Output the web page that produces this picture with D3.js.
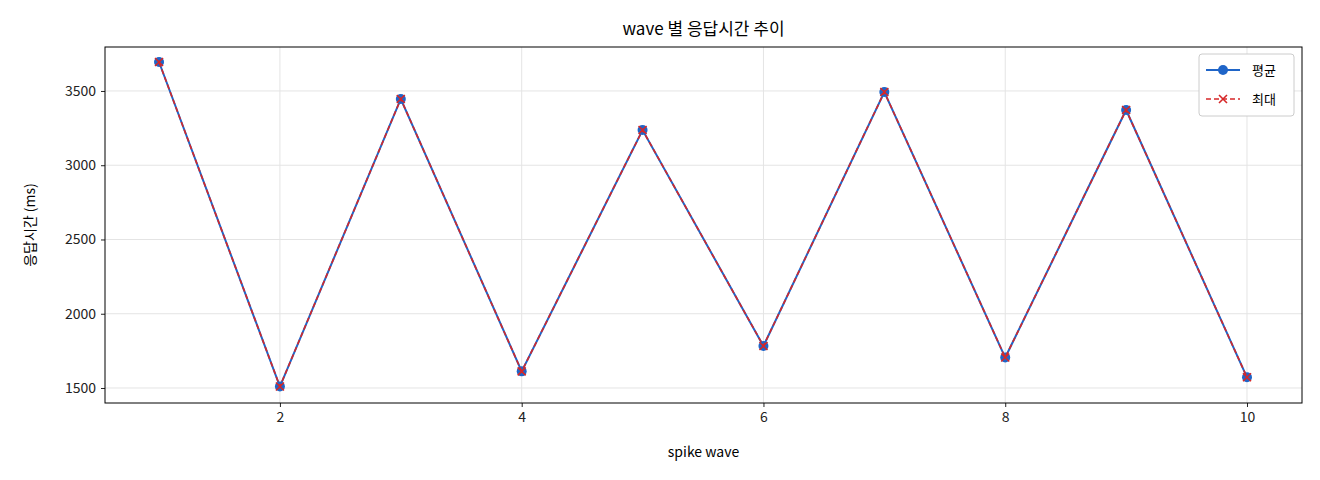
<!DOCTYPE html>
<html><head><meta charset="utf-8">
<script src="https://cdn.jsdelivr.net/npm/d3@7"></script>
<style>body{margin:0;background:#fff}text{font-family:"Noto Sans CJK KR","Noto Sans",sans-serif}</style>
</head><body>
<svg id="c" width="1320" height="480"></svg>
<script>
const waves=[1,2,3,4,5,6,7,8,9,10];
const avgVals=[3695,1510,3446,1612,3237,1783,3493,1705,3372,1572];
const maxVals=[3695,1510,3446,1612,3237,1783,3493,1705,3372,1572];
const xTicks=[2,4,6,8,10];
const yTicks=[1500,2000,2500,3000,3500];
const svg=d3.select("#c");
const L=105,R=1302,T=47,B=403;
const x=d3.scaleLinear().domain([0.553,10.455]).range([L,R]);
const y=d3.scaleLinear().domain([1399,3796]).range([B,T]);
const g=svg.append("g");
g.selectAll(".gx").data(xTicks).enter().append("line").attr("x1",d=>x(d)).attr("x2",d=>x(d)).attr("y1",T).attr("y2",B).attr("stroke","#e4e4e4");
g.selectAll(".gy").data(yTicks).enter().append("line").attr("y1",d=>y(d)).attr("y2",d=>y(d)).attr("x1",L).attr("x2",R).attr("stroke","#e4e4e4");
const xa=svg.append("g").attr("transform",`translate(0,${B})`).call(d3.axisBottom(x).tickValues(xTicks).tickFormat(d3.format("d")).tickSize(4).tickPadding(5));
const ya=svg.append("g").attr("transform",`translate(${L},0)`).call(d3.axisLeft(y).tickValues(yTicks).tickFormat(d3.format("d")).tickSize(4).tickPadding(5));
[xa,ya].forEach(a=>{a.select(".domain").remove();a.selectAll("text").attr("font-size",14).attr("fill","#222");a.selectAll("line").attr("stroke","#222");});
svg.append("rect").attr("x",L).attr("y",T).attr("width",R-L).attr("height",B-T).attr("fill","none").attr("stroke","#000");
const line=d3.line().x((d,i)=>x(waves[i])).y(d=>y(d));
svg.append("path").datum(avgVals).attr("d",line).attr("fill","none").attr("stroke","#1f65c8").attr("stroke-width",2);
svg.selectAll(".pa").data(avgVals).enter().append("circle").attr("cx",(d,i)=>x(waves[i])).attr("cy",d=>y(d)).attr("r",5).attr("fill","#1f65c8");
svg.append("path").datum(maxVals).attr("d",line).attr("fill","none").attr("stroke","#d62728").attr("stroke-width",1.6).attr("stroke-dasharray","5,3");
const cross=(sel,cx,cy)=>{sel.append("path").attr("d",`M${cx-4},${cy-4}L${cx+4},${cy+4}M${cx-4},${cy+4}L${cx+4},${cy-4}`).attr("stroke","#d62728").attr("stroke-width",1.6);};
maxVals.forEach((d,i)=>cross(svg,x(waves[i]),y(d)));
svg.append("text").attr("x",(L+R)/2).attr("y",35).attr("text-anchor","middle").attr("font-size",17).text("wave 별 응답시간 추이");
svg.append("text").attr("x",(L+R)/2).attr("y",457).attr("text-anchor","middle").attr("font-size",14).text("spike wave");
svg.append("text").attr("transform",`translate(35,${(T+B)/2}) rotate(-90)`).attr("text-anchor","middle").attr("font-size",14).text("응답시간 (ms)");
const lg=svg.append("g");
lg.append("rect").attr("x",1199).attr("y",54).attr("width",95).attr("height",62).attr("rx",3).attr("fill","#fff").attr("stroke","#ccc");
lg.append("line").attr("x1",1206).attr("x2",1240).attr("y1",70).attr("y2",70).attr("stroke","#1f65c8").attr("stroke-width",2);
lg.append("circle").attr("cx",1223).attr("cy",70).attr("r",5).attr("fill","#1f65c8");
lg.append("text").attr("x",1252).attr("y",75).attr("font-size",13).text("평균");
lg.append("line").attr("x1",1206).attr("x2",1240).attr("y1",99).attr("y2",99).attr("stroke","#d62728").attr("stroke-width",1.6).attr("stroke-dasharray","5,3");
cross(lg,1223,99);
lg.append("text").attr("x",1252).attr("y",104).attr("font-size",13).text("최대");
</script>
</body></html>
